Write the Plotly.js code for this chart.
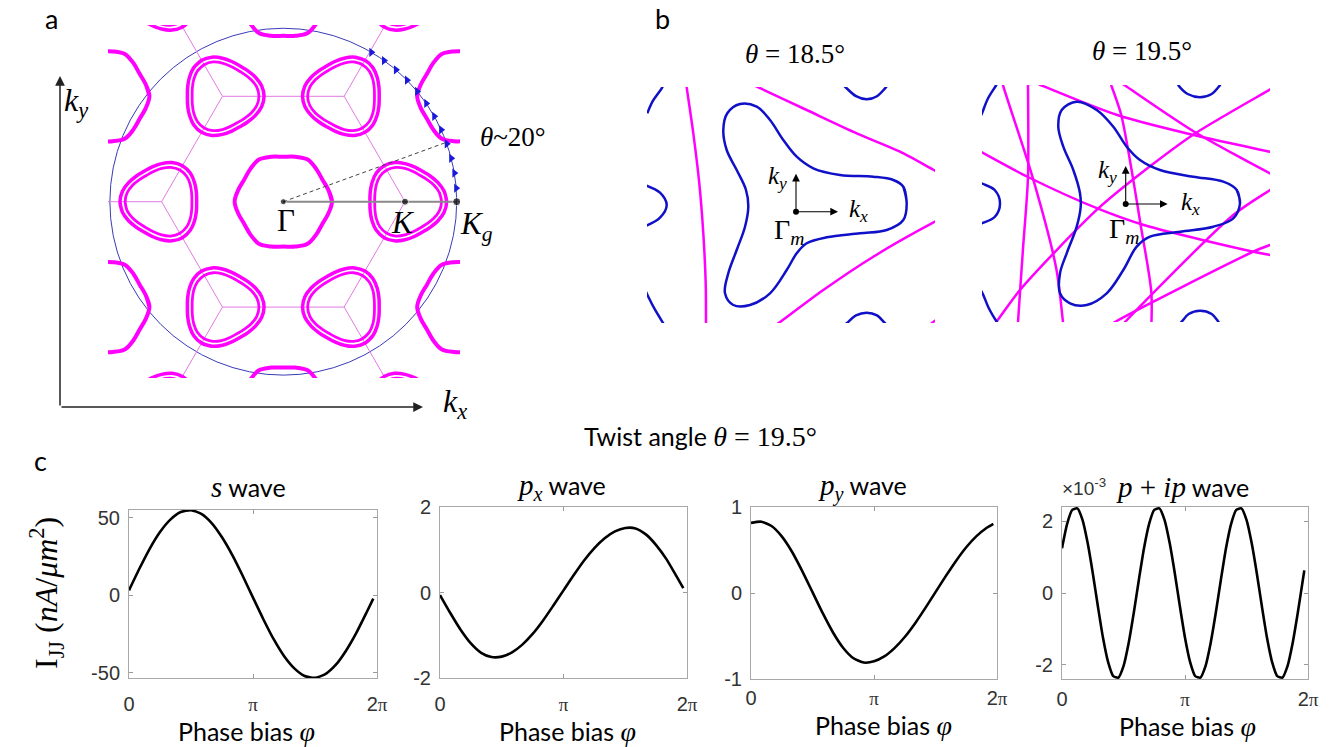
<!DOCTYPE html>
<html><head><meta charset="utf-8">
<script src="https://cdn.plot.ly/plotly-3.0.1.min.js"></script>
<style>html,body{margin:0;padding:0;background:#fff;}#fig{width:1332px;height:747px;}</style>
</head><body><div id="fig"></div>
<script>
// ================= panel c : Josephson current vs phase bias =================
const phaseGridPi = [0, 0.0833, 0.1667, 0.25, 0.3333, 0.4167, 0.5, 0.5833, 0.6667, 0.75, 0.8333, 0.9167, 1, 1.0833, 1.1667, 1.25, 1.3333, 1.4167, 1.5, 1.5833, 1.6667, 1.75, 1.8333, 1.9167, 1.97];
const sWave  = [3.2, 17.1, 30.0, 40.8, 48.8, 53.7, 54.9, 52.5, 46.6, 37.4, 25.9, 12.6, -1.5, -15.4, -28.3, -39.1, -47.1, -52.0, -53.2, -50.8, -44.9, -35.7, -24.2, -10.9, -2.1];
const pxWave = [-0.06, -0.48, -0.87, -1.19, -1.41, -1.51, -1.50, -1.40, -1.22, -0.97, -0.66, -0.31, 0.05, 0.41, 0.75, 1.04, 1.27, 1.43, 1.51, 1.50, 1.36, 1.11, 0.78, 0.37, 0.10];
const pyWave = [0.815, 0.829, 0.779, 0.659, 0.48, 0.255, 0.01, -0.235, -0.459, -0.639, -0.759, -0.809, -0.795, -0.738, -0.641, -0.512, -0.354, -0.176, 0.01, 0.196, 0.373, 0.532, 0.661, 0.758, 0.805];
const pipGridPi = [0, 0.0417, 0.0833, 0.125, 0.1667, 0.2083, 0.25, 0.2917, 0.3333, 0.375, 0.4167, 0.4583, 0.5, 0.5417, 0.5833, 0.625, 0.6667, 0.7083, 0.75, 0.7917, 0.8333, 0.875, 0.9167, 0.9583, 1, 1.0417, 1.0833, 1.125, 1.1667, 1.2083, 1.25, 1.2917, 1.3333, 1.375, 1.4167, 1.4583, 1.5, 1.5417, 1.5833, 1.625, 1.6667, 1.7083, 1.75, 1.7917, 1.8333, 1.875, 1.9167, 1.9583, 1.97];
const pipWaveE3 = [1.25, 1.93, 2.32, 2.36, 2.04, 1.40, 0.56, -0.37, -1.25, -1.93, -2.32, -2.36, -2.04, -1.40, -0.56, 0.37,
                   1.25, 1.93, 2.32, 2.36, 2.04, 1.40, 0.56, -0.37, -1.25, -1.93, -2.32, -2.36, -2.04, -1.40, -0.56, 0.37,
                   1.25, 1.93, 2.32, 2.36, 2.04, 1.40, 0.56, -0.37, -1.25, -1.93, -2.32, -2.36, -2.04, -1.40, -0.56, 0.37, 0.63];
const xTickVals = [0, 1, 2];
const xTickText = ['0', '<span style="font-family:Liberation Serif;font-size:19px">π</span>', '2<span style="font-family:Liberation Serif;font-size:19px">π</span>'];
const sTicks = [-50, 0, 50], pxTicks = [-2, 0, 2], pyTicks = [-1, 0, 1], pipTicks = [-2, 0, 2];
const cTitles = ['<span style="font-family:Liberation Serif;font-size:29px"><i>s</i></span> wave',
                 '<span style="font-family:Liberation Serif;font-size:29px"><i>p</i><sub><i>x</i></sub></span> wave',
                 '<span style="font-family:Liberation Serif;font-size:29px"><i>p</i><sub><i>y</i></sub></span> wave',
                 '<span style="font-family:Liberation Serif;font-size:29px"><i>p</i> + <i>ip</i></span> wave'];

// ================= panel a : moire Fermi surfaces =================
const kAnglesDeg = [0, 60, 120, 180, 240, 300];
const gammaPrimeAnglesDeg = [30, 90, 150, 210, 270, 330];
const gammaK = 1.0;
const gammaGammaPrime = 1.732;
const circleRadius = 1.425;
const twistMarkAngleDeg = 20;
const sampledAnglesDeg = [4.5, 9.5, 14.5, 19.5, 24.5, 29.5, 34.5, 39.5, 44.5, 49.5, 54.5, 59.5];
const contourAnglesDeg = [0,15,30,45,60,75,90,105,120,135,150,165,180,195,210,225,240,255,270,285,300,315,330,345];
const gammaPocketR = [0.40,0.382,0.369,0.382, 0.40,0.382,0.369,0.382, 0.40,0.382,0.369,0.382, 0.40,0.382,0.369,0.382, 0.40,0.382,0.369,0.382, 0.40,0.382,0.369,0.382];
const kPocketOuterR = [0.342,0.333,0.313,0.296,0.288,0.296,0.313,0.333, 0.342,0.333,0.313,0.296,0.288,0.296,0.313,0.333, 0.342,0.333,0.313,0.296,0.288,0.296,0.313,0.333];
const kPocketInnerR = [0.300,0.292,0.273,0.256,0.249,0.256,0.273,0.292, 0.300,0.292,0.273,0.256,0.249,0.256,0.273,0.292, 0.300,0.292,0.273,0.256,0.249,0.256,0.273,0.292];

// ================= panel b : theta = 18.5 deg =================
const b185Trefoil = [[110.7,8.4],[107.3,25],[97.3,31.7],[77.3,35],[44,36.7],[17.3,43.4],[0.7,55],[-12.7,71.7],[-26,91.7],[-39.3,105],[-56,107.7],[-68.7,98.4],[-72.7,81.7],[-69.3,61.7],[-59.3,41.7],[-50,21.7],[-47.7,5],[-51,-15],[-59.3,-38.3],[-67.7,-61.6],[-71,-81.6],[-62.7,-93.3],[-46,-93.3],[-26,-81.6],[-9.3,-58.3],[0.7,-41.6],[10.7,-31.6],[30.7,-25.6],[64,-21.6],[90.7,-18.3],[107.3,-8.3]];
const b185BlueArcs = [
  [[-148.7,98.4],[-143,111],[-134.3,123.4],[-131,130]],
  [[-152,27],[-136,19],[-129.3,6.7],[-136,-6],[-152,-15]],
  [[-150,-80],[-147.7,-85],[-141,-98],[-132.7,-111.6],[-130,-116]],
  [[48,126],[50.7,123.4],[60,115.5],[70.7,112.4],[81,115.5],[89,123.4],[92,127]],
  [[48,-114],[50.7,-111.6],[60,-103.7],[70.7,-101],[81,-103.7],[89,-111.6],[92,-114]]];
const b185MagentaLines = [
  [[-110,130],[-109.3,124.4],[-102.7,78.4],[-96.7,28.4],[-92.7,-21.6],[-90.3,-71.6],[-90,-111.6],[-90,-116]],
  [[-45,128],[-37.7,124.4],[10.7,101.7],[60.7,78.4],[104,60],[139,41],[145,38]],
  [[-24,-116],[-17.7,-111.6],[27.3,-78.3],[77.3,-45],[139,-10],[145,-7]],
  [[133,-114],[135.7,-111.6],[139,-109],[143,-106]]];

// ================= panel b : theta = 19.5 deg =================
const b195Trefoil = [[114.3,0.7],[111,14],[97.6,22.3],[67.6,27.3],[34.3,34],[14.3,44],[1,57.3],[-12.4,77.3],[-29,94],[-49,102.3],[-64,94],[-67.4,77.3],[-62.4,57.3],[-52.4,34],[-45.7,10.7],[-45,-2.7],[-49,-22.7],[-59,-49.3],[-65.7,-69.3],[-65.7,-89.3],[-55.7,-99.3],[-39,-101],[-19,-89.3],[-2.4,-66],[11,-42.7],[24.3,-32.7],[54.3,-27.7],[87.6,-22.7],[107.6,-14.3]];
const b195BlueArcs = [
  [[-147,84],[-144,90],[-138,105],[-130,118],[-127,123]],
  [[-148,23],[-144,20.7],[-131,14],[-125.7,0.7],[-131,-13],[-144,-19.3],[-148,-21]],
  [[-145,-86],[-142.4,-91],[-137,-104],[-129,-117.7],[-126,-122]],
  [[52,120],[54.3,116.7],[62,110],[74.3,106.7],[86,110],[92.6,116.7],[95,120]],
  [[53,-121],[56,-117.7],[63,-110],[74.3,-106.7],[86,-110],[92.6,-117.7],[95,-121]]];
const b195MagentaLines = [
  [[-133,-122],[-129.4,-118],[-106,-86.3],[-27.7,-4.7],[25.6,38.7],[69,70.3],[145.6,115.3],[150,118]],
  [[-150,55],[-144.4,52],[-97.7,27],[-27.7,-4.7],[19,-21.3],[129,-48],[144.3,-51],[150,-52]],
  [[-92,122],[-84.4,118.7],[-7.7,88.7],[69,68.7],[145.6,52],[150,51]],
  [[-6,122],[-1,118.7],[69,72],[144.3,30.7],[150,28]],
  [[-124,124],[-122.7,118.7],[-92.7,25.3],[-69.4,-64.7],[-62.7,-118],[-62,-124]],
  [[-97.7,124],[-97.7,118.7],[-97.7,27],[-102.7,-44.7],[-107.7,-118],[-108,-124]],
  [[-16,124],[-14.4,118.7],[-4.4,88.7],[15.6,-24.7],[25.6,-88],[25.6,-124]],
  [[-6,-124],[-0.7,-118],[107.6,-11],[144.3,14],[150,18]],
  [[-16,-122],[-10.7,-118],[127.6,-47.7],[144.3,-41],[150,-39]]];
const b185Title = '<i>θ</i> = 18.5°';
const b195Title = '<i>θ</i> = 19.5°';

// ================= helpers =================
const W = 1332, H = 747;
const px = v => v / W, py = v => 1 - v / H;
const deg = Math.PI / 180;
const MAG = '#ff00ff', BLUE = '#1010c8';

function polarContour(out, angles, radii, cx, cy, rot) {
  const n = angles.length;
  for (let i = 0; i <= n + 1; i++) {
    const j = i % n, a = (angles[j] + rot) * deg;
    out.x.push(cx + radii[j] * Math.cos(a)); out.y.push(cy + radii[j] * Math.sin(a));
  }
  out.x.push(null); out.y.push(null);
}
function ptsToXY(lists, closed) {
  const o = {x: [], y: []};
  lists.forEach(l => {
    const pts = closed ? l.concat([l[0], l[1]]) : l;
    pts.forEach(p => { o.x.push(p[0]); o.y.push(p[1]); });
    o.x.push(null); o.y.push(null);
  });
  return o;
}
const P = (r, a) => [r * Math.cos(a * deg), r * Math.sin(a * deg)];

const traces = [];

// ---- panel a: honeycomb (thin) ----
const hc = {x: [], y: []};
const seg = (a, b) => { hc.x.push(a[0], b[0], null); hc.y.push(a[1], b[1], null); };
kAnglesDeg.forEach((a, i) => {
  const k = P(gammaK, a), kn = P(gammaK, kAnglesDeg[(i + 1) % 6]), k2 = P(2 * gammaK, a);
  seg(k, kn); seg(k, k2);
  [a + 60, a - 60].forEach(b => seg(k2, [k2[0] + gammaK * Math.cos(b * deg), k2[1] + gammaK * Math.sin(b * deg)]));
});
traces.push({type: 'scatter', mode: 'lines', x: hc.x, y: hc.y, xaxis: 'x', yaxis: 'y', line: {color: '#e27ae2', width: 1}, hoverinfo: 'skip'});

// ---- panel a: pockets ----
const gp = {x: [], y: []};
polarContour(gp, contourAnglesDeg, gammaPocketR, 0, 0, 0);
gammaPrimeAnglesDeg.forEach(g => { const c = P(gammaGammaPrime, g); polarContour(gp, contourAnglesDeg, gammaPocketR, c[0], c[1], 0); });
traces.push({type: 'scatter', mode: 'lines', x: gp.x, y: gp.y, xaxis: 'x', yaxis: 'y', line: {color: MAG, width: 4, shape: 'spline', smoothing: 1}, hoverinfo: 'skip'});
const ko = {x: [], y: []}, ki = {x: [], y: []};
kAnglesDeg.forEach(a => {
  const c1 = P(gammaK, a), c2 = P(2 * gammaK, a);
  polarContour(ko, contourAnglesDeg, kPocketOuterR, c1[0], c1[1], a);
  polarContour(ki, contourAnglesDeg, kPocketInnerR, c1[0], c1[1], a);
  polarContour(ko, contourAnglesDeg, kPocketOuterR, c2[0], c2[1], a + 60);
  polarContour(ki, contourAnglesDeg, kPocketInnerR, c2[0], c2[1], a + 60);
});
traces.push({type: 'scatter', mode: 'lines', x: ko.x, y: ko.y, xaxis: 'x', yaxis: 'y', line: {color: MAG, width: 3.5, shape: 'spline', smoothing: 1}, hoverinfo: 'skip'});
traces.push({type: 'scatter', mode: 'lines', x: ki.x, y: ki.y, xaxis: 'x', yaxis: 'y', line: {color: MAG, width: 2.8, shape: 'spline', smoothing: 1}, hoverinfo: 'skip'});

// ---- panel a: Γ-Kg line, dashed twist line, markers, dots ----
traces.push({type: 'scatter', mode: 'lines', x: [0, circleRadius], y: [0, 0], xaxis: 'x', yaxis: 'y', line: {color: '#8a8a8a', width: 2}, hoverinfo: 'skip'});
const tw = P(circleRadius, twistMarkAngleDeg);
traces.push({type: 'scatter', mode: 'lines', x: [0, tw[0]], y: [0, tw[1]], xaxis: 'x', yaxis: 'y', line: {color: '#444', width: 1, dash: '4px,3px'}, hoverinfo: 'skip'});
traces.push({type: 'scatter', mode: 'markers', x: sampledAnglesDeg.map(a => P(circleRadius, a)[0]), y: sampledAnglesDeg.map(a => P(circleRadius, a)[1]),
  xaxis: 'x', yaxis: 'y', marker: {symbol: 'triangle-right', size: 8, color: '#1a1ad8'}, hoverinfo: 'skip'});
traces.push({type: 'scatter', mode: 'markers', x: [0, gammaK, circleRadius], y: [0, 0, 0], xaxis: 'x', yaxis: 'y', marker: {size: [6, 7, 8], color: '#000'}, hoverinfo: 'skip'});

// ---- panel b ----
function addB(xa, ya, tref, arcs, mlines) {
  const m = ptsToXY(mlines, false);
  traces.push({type: 'scatter', mode: 'lines', x: m.x, y: m.y, xaxis: xa, yaxis: ya, line: {color: MAG, width: 2.5, shape: 'spline', smoothing: 0.8}, hoverinfo: 'skip'});
  const b = ptsToXY(arcs, false);
  traces.push({type: 'scatter', mode: 'lines', x: b.x, y: b.y, xaxis: xa, yaxis: ya, line: {color: BLUE, width: 2.5, shape: 'spline', smoothing: 1}, hoverinfo: 'skip'});
  const t = ptsToXY([tref], true);
  traces.push({type: 'scatter', mode: 'lines', x: t.x, y: t.y, xaxis: xa, yaxis: ya, line: {color: BLUE, width: 2.5, shape: 'spline', smoothing: 1}, hoverinfo: 'skip'});
  traces.push({type: 'scatter', mode: 'markers', x: [0], y: [0], xaxis: xa, yaxis: ya, marker: {size: 6, color: '#000'}, hoverinfo: 'skip'});
}
addB('x2', 'y2', b185Trefoil, b185BlueArcs, b185MagentaLines);
addB('x3', 'y3', b195Trefoil, b195BlueArcs, b195MagentaLines);

// ---- panel c ----
const cSeries = [[phaseGridPi, sWave], [phaseGridPi, pxWave], [phaseGridPi, pyWave], [pipGridPi, pipWaveE3]];
cSeries.forEach((s, i) => traces.push({type: 'scatter', mode: 'lines', x: s[0], y: s[1], xaxis: 'x' + (i + 4), yaxis: 'y' + (i + 4),
  line: {color: '#000', width: 2.6, shape: 'spline', smoothing: 0.6}, hoverinfo: 'skip'}));

// ================= layout =================
const hidden = (dom, range, anchor) => ({domain: dom, range: range, anchor: anchor, visible: false, fixedrange: true});
const layout = {
  width: W, height: H, autosize: false, showlegend: false,
  margin: {l: 0, r: 0, t: 0, b: 0}, paper_bgcolor: '#fff', plot_bgcolor: 'rgba(0,0,0,0)',
  xaxis: hidden([px(108), px(460)], [-1.4404, 1.4519], 'y'),
  yaxis: hidden([py(378), py(25)], [-1.4487, 1.4519], 'x'),
  xaxis2: hidden([px(647), px(935)], [-149, 139], 'y2'),
  yaxis2: hidden([py(323), py(87)], [-111.3, 124.7], 'x2'),
  xaxis3: hidden([px(982), px(1270)], [-143.7, 144.3], 'y3'),
  yaxis3: hidden([py(322), py(85)], [-118, 119], 'x3'),
  shapes: [{type: 'circle', xref: 'x', yref: 'y', x0: -circleRadius, x1: circleRadius, y0: -circleRadius, y1: circleRadius,
            line: {color: '#3a3ab8', width: 1}, layer: 'below'}],
  annotations: []
};
const cBoxes = [[129, 377, 510, 678], [440, 687, 507, 678], [751, 997, 507, 679], [1062, 1308, 507, 679]];
const cRanges = [[-53.3, 55.0], [-2, 2], [-1, 1], [-2.4, 2.4]];
const cTicks = [sTicks, pxTicks, pyTicks, pipTicks];
const xStandoff = [8, 8, 1, 2];
const axFont = {family: 'Liberation Sans, Arial', size: 20, color: '#333'};
cBoxes.forEach((b, i) => {
  const n = i + 4;
  layout['xaxis' + n] = {domain: [px(b[0]), px(b[1])], anchor: 'y' + n, range: [0, 2], tickvals: xTickVals, ticktext: xTickText,
    ticks: 'inside', ticklen: 4, tickcolor: '#9a9a9a', showline: true, linecolor: '#a8a8a8', linewidth: 1, mirror: 'ticks',
    showgrid: false, zeroline: false, tickfont: axFont, ticklabelstandoff: xStandoff[i], fixedrange: true};
  layout['yaxis' + n] = {domain: [py(b[3]), py(b[2])], anchor: 'x' + n, range: cRanges[i], tickvals: cTicks[i], ticktext: cTicks[i].map(v => String(v)),
    ticks: 'inside', ticklen: 4, tickcolor: '#9a9a9a', showline: true, linecolor: '#a8a8a8', linewidth: 1, mirror: 'ticks',
    showgrid: false, zeroline: false, tickfont: axFont, ticklabelstandoff: 4, fixedrange: true};
});

const A = layout.annotations;
const txt = (x, y, text, size, family, extra) => A.push(Object.assign({xref: 'paper', yref: 'paper', x: px(x), y: py(y), text: text, showarrow: false,
  xanchor: 'center', yanchor: 'middle', font: {family: family, size: size, color: '#000'}}, extra || {}));
const SANS = 'Lato, Open Sans, sans-serif', SERIF = 'Liberation Serif, DejaVu Serif, serif';

// panel letters
txt(51, 19, 'a', 27, SANS); txt(662, 19, 'b', 27, SANS); txt(40, 460, 'c', 27, SANS);
// panel a axes arrows and labels
A.push({xref: 'paper', yref: 'paper', x: px(60), y: py(76), ax: 0, ay: 331, axref: 'pixel', ayref: 'pixel', text: '', showarrow: true, arrowhead: 2, arrowsize: 1.3, arrowwidth: 1.5, arrowcolor: '#222'});
A.push({xref: 'paper', yref: 'paper', x: px(423), y: py(407), ax: -363, ay: 0, axref: 'pixel', ayref: 'pixel', text: '', showarrow: true, arrowhead: 2, arrowsize: 1.3, arrowwidth: 1.5, arrowcolor: '#222'});
txt(76, 102, '<i>k</i><sub><i>y</i></sub>', 32, SERIF);
txt(455, 404, '<i>k</i><sub><i>x</i></sub>', 32, SERIF);
txt(286, 220, 'Γ', 31, SERIF);
txt(403, 223, '<i>K</i>', 31, SERIF);
txt(476, 226, '<i>K</i><sub><i>g</i></sub>', 31, SERIF);
txt(513, 137, '<i>θ</i>~20°', 27, SERIF);
// panel b labels
txt(795, 54, b185Title, 27, SERIF);
txt(1142, 51, b195Title, 27, SERIF);
[['x2', 'y2'], ['x3', 'y3']].forEach((r, i) => {
  A.push({xref: r[0], yref: r[1], x: 42, y: 0, ax: 0, ay: 0, axref: r[0], ayref: r[1], text: '', showarrow: true, arrowhead: 2, arrowsize: 1.4, arrowwidth: 1.1, arrowcolor: '#000'});
  A.push({xref: r[0], yref: r[1], x: 0, y: 38, ax: 0, ay: 0, axref: r[0], ayref: r[1], text: '', showarrow: true, arrowhead: 2, arrowsize: 1.4, arrowwidth: 1.1, arrowcolor: '#000'});
});
txt(777, 177, '<i>k</i><sub><i>y</i></sub>', 25, SERIF);
txt(858, 211, '<i>k</i><sub><i>x</i></sub>', 25, SERIF);
txt(789, 231, 'Γ<sub><i>m</i></sub>', 28, SERIF);
txt(1107, 172, '<i>k</i><sub><i>y</i></sub>', 25, SERIF);
txt(1190, 203, '<i>k</i><sub><i>x</i></sub>', 25, SERIF);
txt(1124, 230, 'Γ<sub><i>m</i></sub>', 28, SERIF);
// panel c texts
txt(700, 437, 'Twist angle <span style="font-family:Liberation Serif;font-size:28px"><i>θ</i> = 19.5°</span>', 25, SANS);
const titleX = [248, 561, 862, 1182];
const xTitle = [[246, 731], [567, 731], [883, 725], [1187, 726]];
cTitles.forEach((t, i) => {
  txt(titleX[i], 487, t, 25, SANS);
  txt(xTitle[i][0], xTitle[i][1], 'Phase bias <span style="font-family:Liberation Serif;font-size:28px"><i>φ</i></span>', 25, SANS);
});
txt(1084, 487, '×10<sup>-3</sup>', 19, 'Liberation Sans, Arial', {font: {family: 'Liberation Sans, Arial', size: 19, color: '#333'}});
txt(46, 593, 'I<sub>JJ</sub> (<i>nA</i>/<i>μm</i><sup>2</sup>)', 32, SERIF, {textangle: -90});

Plotly.newPlot('fig', traces, layout, {staticPlot: true, displayModeBar: false});
</script>
</body></html>
